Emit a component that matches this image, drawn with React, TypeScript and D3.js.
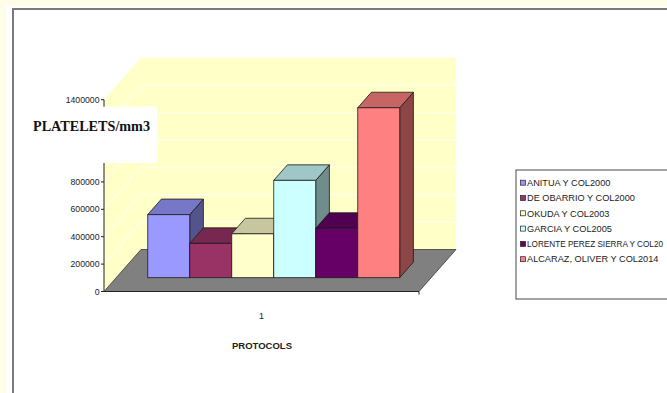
import React from "react";
import * as d3 from "d3";

// Platelet counts (per mm3) reported by each protocol
const series = [
  "ANITUA Y COL2000",
  "DE OBARRIO Y COL2000",
  "OKUDA Y COL2003",
  "GARCIA Y COL2005",
  "LORENTE PEREZ SIERRA Y COL20",
  "ALCARAZ, OLIVER Y COL2014",
];
const values = [460000, 250000, 320000, 710000, 360000, 1240000];
const seriesColors = ["#9999FF", "#993366", "#FFFFCC", "#CCFFFF", "#660066", "#FF8080"];
const yTicks = [0, 200000, 400000, 600000, 800000, 1000000, 1200000, 1400000];
const category = "1";

const W = 667;
const H = 393;

// oblique 3D projection: depth vector of the whole plot box
const DX = 37;
const DY = -42;
// bars occupy a slice of the depth
const T0 = 0.33;
const T1 = 0.7;

// axis title box (sits over the upper part of the value axis)
const TITLE_BOX = { x: 20, y: 106.7, w: 137, h: 56.3 };

function shade(c: string, k: number) {
  const r = d3.rgb(c);
  return d3.rgb(r.r * k, r.g * k, r.b * k).formatHex();
}

export default function App() {
  const x0 = 104;
  const x1 = 419;
  const y = d3.scaleLinear().domain([0, 1400000]).range([291.5, 99.7]);
  const x = d3
    .scaleBand<string>()
    .domain(series)
    .range([x0, x1])
    .paddingInner(0)
    .paddingOuter(0.75);

  const yTop = y(1400000);
  const yBase = y(0);

  const pts = (arr: [number, number][]) => arr.map((p) => p.join(",")).join(" ");

  const fdx = DX * T0;
  const fdy = DY * T0;
  const bdx = DX * (T1 - T0);
  const bdy = DY * (T1 - T0);

  // tick labels hidden behind the title box are not drawn
  const labelled = yTicks.filter(
    (t) => y(t) < TITLE_BOX.y - 2 || y(t) > TITLE_BOX.y + TITLE_BOX.h + 2
  );

  return (
    <svg
      width={W}
      height={H}
      style={{ position: "absolute", left: 0, top: 0 }}
      fontFamily="Arial, 'Liberation Sans', sans-serif"
    >
      <rect x={0} y={0} width={W} height={H} fill="#FFFDE8" />
      <rect x={6} y={6} width={W} height={H} fill="#FFFFFF" />
      <rect x={13} y={9} width={W + 20} height={H + 20} fill="#FFFFFF" stroke="#7A7A7A" strokeWidth={2} />

      {/* side wall */}
      <polygon
        points={pts([
          [x0, yBase],
          [x0, yTop],
          [x0 + DX, yTop + DY],
          [x0 + DX, yBase + DY],
        ])}
        fill="#FFFFC8"
      />
      {/* back wall */}
      <rect x={x0 + DX} y={yTop + DY} width={x1 - x0} height={yBase - yTop} fill="#FFFFC8" />
      {/* gridlines on walls */}
      {yTicks.slice(1, -1).map((t) => (
        <polyline
          key={t}
          points={pts([
            [x0, y(t)],
            [x0 + DX, y(t) + DY],
            [x1 + DX, y(t) + DY],
          ])}
          fill="none"
          stroke="#FFFFEC"
          strokeWidth={1.2}
        />
      ))}

      {/* floor */}
      <polygon
        points={pts([
          [x0, yBase],
          [x1, yBase],
          [x1 + DX, yBase + DY],
          [x0 + DX, yBase + DY],
        ])}
        fill="#808080"
        stroke="#3A3A3A"
        strokeWidth={0.8}
      />

      {/* bars */}
      {series.map((s, i) => {
        const bx = (x(s) as number) + fdx;
        const bw = x.bandwidth();
        const by0 = yBase + fdy;
        const by1 = y(values[i]) + fdy;
        const c = seriesColors[i];
        return (
          <g key={s} stroke="#1A1A1A" strokeWidth={0.8} strokeLinejoin="round">
            <polygon
              points={pts([
                [bx + bw, by0],
                [bx + bw + bdx, by0 + bdy],
                [bx + bw + bdx, by1 + bdy],
                [bx + bw, by1],
              ])}
              fill={shade(c, 0.55)}
            />
            <polygon
              points={pts([
                [bx, by1],
                [bx + bw, by1],
                [bx + bw + bdx, by1 + bdy],
                [bx + bdx, by1 + bdy],
              ])}
              fill={shade(c, 0.78)}
            />
            <rect x={bx} y={by1} width={bw} height={by0 - by1} fill={c} />
          </g>
        );
      })}

      {/* value axis */}
      <line x1={x0} x2={x0} y1={yTop} y2={yBase} stroke="#222" strokeWidth={1} />
      {yTicks.map((t) => (
        <line key={t} x1={x0 - 3} x2={x0} y1={y(t)} y2={y(t)} stroke="#222" strokeWidth={1} />
      ))}
      {labelled.map((t) => (
        <text key={t} x={99.5} y={y(t) + 3} fontSize={8.7} textAnchor="end" fill="#222">
          {t}
        </text>
      ))}
      {/* category axis */}
      <line x1={x0} x2={x1} y1={yBase} y2={yBase} stroke="#222" strokeWidth={1} />
      <line x1={x1} x2={x1} y1={yBase} y2={yBase + 3} stroke="#222" strokeWidth={1} />
      <text x={(x0 + x1) / 2} y={319} fontSize={9} textAnchor="middle" fill="#222">
        {category}
      </text>
      <text x={262} y={349} fontSize={9.5} fontWeight="bold" textAnchor="middle" fill="#222">
        PROTOCOLS
      </text>

      {/* value axis title */}
      <rect x={TITLE_BOX.x} y={TITLE_BOX.y} width={TITLE_BOX.w} height={TITLE_BOX.h} fill="#FFFFFF" />
      <text
        x={33}
        y={131}
        fontFamily="'Liberation Serif', 'Times New Roman', serif"
        fontWeight="bold"
        fontSize={14}
        textLength={117}
        lengthAdjust="spacingAndGlyphs"
        fill="#111"
      >
        PLATELETS/mm3
      </text>

      {/* legend */}
      <rect x={516} y={170} width={200} height={129} fill="#FFFFFF" stroke="#4A4A4A" strokeWidth={1} />
      {series.map((s, i) => {
        const cy = 182.7 + i * 15.3;
        const long = s.length > 26;
        return (
          <g key={s}>
            <rect x={520.5} y={cy - 2.5} width={5} height={5} fill={seriesColors[i]} stroke="#222" strokeWidth={0.7} />
            <text
              x={527}
              y={cy + 3.2}
              fontSize={long ? 8.3 : 9.2}
              fill="#222"
              textLength={long ? 136 : undefined}
              lengthAdjust="spacingAndGlyphs"
            >
              {s}
            </text>
          </g>
        );
      })}
    </svg>
  );
}
